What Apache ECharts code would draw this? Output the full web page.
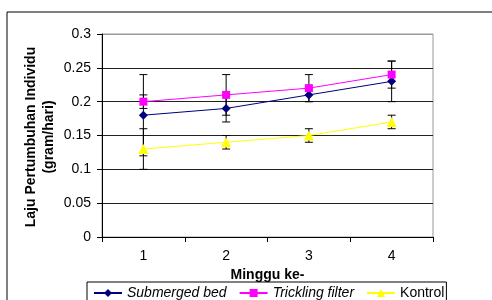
<!DOCTYPE html>
<html>
<head>
<meta charset="utf-8">
<script src="https://cdn.jsdelivr.net/npm/echarts@6/dist/echarts.min.js"></script>
<style>
  html, body { margin: 0; padding: 0; background: #fff; }
  #chart { width: 492px; height: 300px; }
</style>
</head>
<body>
<div id="chart"></div>
<script>
// minggu ke-
const weeks = ["1", "2", "3", "4"];

// laju pertumbuhan individu (gram/hari)
const submergedBed = [0.18, 0.19, 0.21, 0.23];
const tricklingFilter = [0.20, 0.21, 0.22, 0.24];
const kontrol = [0.13, 0.14, 0.15, 0.17];

// error bar (+/-)
const errSubmerged = [0.06, 0.02, 0.01, 0.03];
const errTrickling = [0.01, 0.03, 0.02, 0.02];
const errKontrol = [0.03, 0.01, 0.01, 0.01];

const font = "Liberation Sans, Arial, sans-serif";

// data untuk error bar: [index, low, high]
function errData(vals, errs) {
  return vals.map((v, i) => [i, v - errs[i], v + errs[i]]);
}

function renderErr(params, api) {
  const x = api.value(0);
  const lo = api.coord([x, api.value(1)]);
  const hi = api.coord([x, api.value(2)]);
  const w = 4;
  const style = { stroke: "#000", lineWidth: 1 };
  return {
    type: "group",
    children: [
      { type: "line", shape: { x1: hi[0], y1: hi[1], x2: lo[0], y2: lo[1] }, style },
      { type: "line", shape: { x1: hi[0] - w, y1: hi[1], x2: hi[0] + w, y2: hi[1] }, style },
      { type: "line", shape: { x1: lo[0] - w, y1: lo[1], x2: lo[0] + w, y2: lo[1] }, style }
    ]
  };
}

function errSeries(vals, errs) {
  return {
    type: "custom",
    renderItem: renderErr,
    data: errData(vals, errs),
    encode: { x: 0, y: [1, 2] },
    z: 1,
    silent: true
  };
}

const chart = echarts.init(document.getElementById("chart"), null, { renderer: "canvas" });

chart.setOption({
  animation: false,
  backgroundColor: "#fff",
  textStyle: { fontFamily: font },
  graphic: [
    {
      type: "rect",
      shape: { x: 7, y: 12, width: 520, height: 320 },
      style: { fill: null, stroke: "#000", lineWidth: 1 },
      z: -1
    },
    {
      type: "text",
      x: 40,
      y: 137,
      rotation: Math.PI / 2,
      style: {
        text: "Laju Pertumbuhan Individu\n(gram/hari)",
        font: "bold 14px " + font,
        fill: "#000",
        align: "center",
        verticalAlign: "middle",
        lineHeight: 18
      }
    }
  ],
  grid: {
    left: 102, top: 34, width: 331, height: 203,
    show: true, borderColor: "#999", borderWidth: 1
  },
  legend: {
    left: 87,
    top: 282,
    padding: [4, 2, 8, 6],
    borderColor: "#000",
    borderWidth: 1,
    itemWidth: 28,
    itemHeight: 10,
    itemGap: 12,
    textStyle: { fontFamily: font, fontSize: 14, color: "#000" },
    data: [
      { name: "Submerged bed", textStyle: { fontStyle: "italic" } },
      { name: "Trickling filter", textStyle: { fontStyle: "italic" } },
      { name: "Kontrol" }
    ]
  },
  xAxis: {
    type: "category",
    data: weeks,
    boundaryGap: true,
    name: "Minggu ke-",
    nameLocation: "middle",
    nameGap: 27,
    nameTextStyle: { fontFamily: font, fontSize: 14, fontWeight: "bold", color: "#000" },
    axisLine: { lineStyle: { color: "#000", width: 1 } },
    axisTick: { show: true, interval: 0, length: 5, lineStyle: { color: "#000" } },
    axisLabel: { fontFamily: font, fontSize: 14, color: "#000", margin: 12 }
  },
  yAxis: {
    type: "value",
    min: 0,
    max: 0.3,
    interval: 0.05,
    axisLine: { show: true, lineStyle: { color: "#000", width: 1 } },
    axisTick: { show: true, length: 5, lineStyle: { color: "#000" } },
    axisLabel: { fontFamily: font, fontSize: 14, color: "#000", margin: 11 },
    splitLine: {
      lineStyle: { color: ["#000", "#222", "#222", "#222", "#222", "#222", "#999"], width: 1 }
    }
  },
  series: [
    errSeries(submergedBed, errSubmerged),
    errSeries(tricklingFilter, errTrickling),
    errSeries(kontrol, errKontrol),
    {
      name: "Submerged bed",
      type: "line",
      data: submergedBed,
      symbol: "diamond",
      symbolSize: 9,
      color: "#000080",
      lineStyle: { width: 1, color: "#000080" },
      itemStyle: { color: "#000080" },
      z: 3
    },
    {
      name: "Trickling filter",
      type: "line",
      data: tricklingFilter,
      symbol: "rect",
      symbolSize: 8,
      color: "#ff00ff",
      lineStyle: { width: 1, color: "#ff00ff" },
      itemStyle: { color: "#ff00ff" },
      z: 3
    },
    {
      name: "Kontrol",
      type: "line",
      data: kontrol,
      symbol: "triangle",
      symbolSize: 10,
      color: "#ffff00",
      lineStyle: { width: 1, color: "#ffff00" },
      itemStyle: { color: "#ffff00" },
      z: 3
    }
  ]
});
</script>
</body>
</html>
